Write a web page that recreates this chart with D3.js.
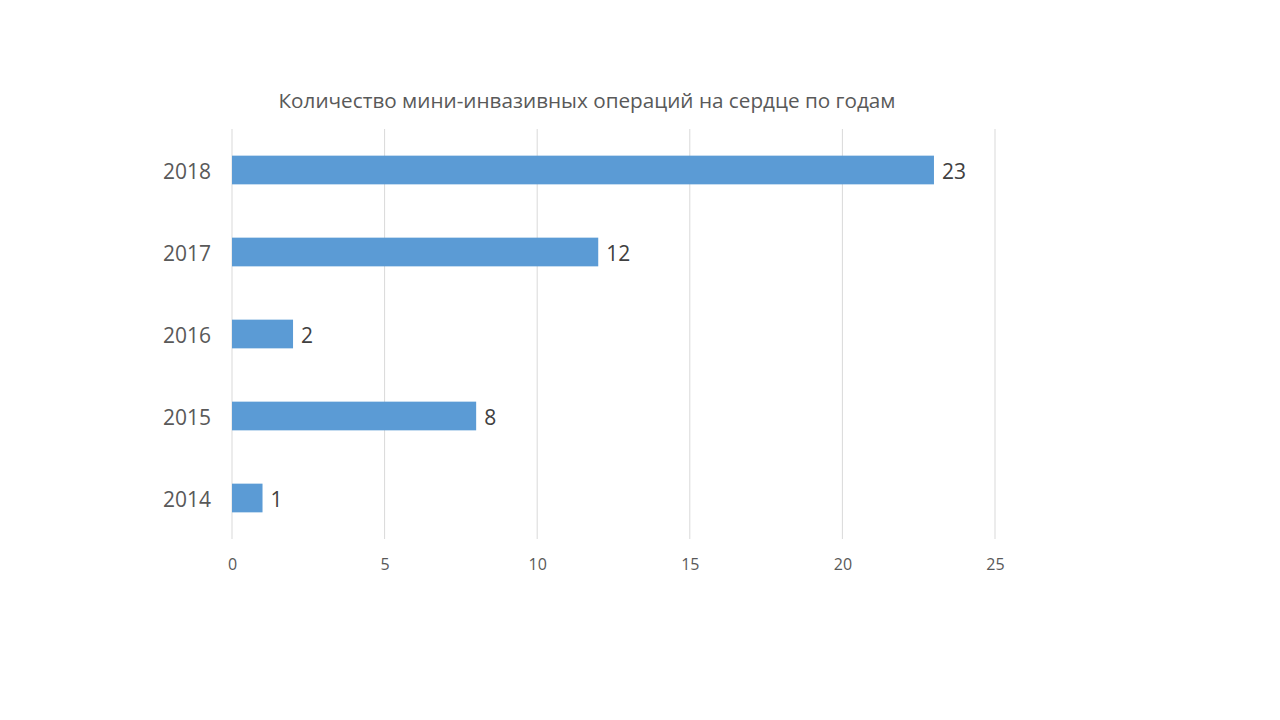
<!DOCTYPE html>
<html><head><meta charset="utf-8">
<script src="https://cdn.jsdelivr.net/npm/d3@7"></script>
<style>html,body{margin:0;padding:0;background:#fff;}</style>
</head><body>
<svg id="chart" width="1280" height="720"></svg>
<script>
const title = "Количество мини-инвазивных операций на сердце по годам";
const categories = ["2018", "2017", "2016", "2015", "2014"];
const values = [23, 12, 2, 8, 1];
const xTicks = [0, 5, 10, 15, 20, 25];

(function(){
const svg = d3.select("#chart");
const font = "'Open Sans', sans-serif";
const pLeft = 232, pRight = 995, pTop = 129, pBottom = 539;

const x = d3.scaleLinear().domain([0, 25]).range([pLeft, pRight]);
const y = d3.scaleBand().domain(categories).range([pTop, pBottom]).paddingInner(0.65).paddingOuter(0.325);

svg.append("rect").attr("width",1280).attr("height",720).attr("fill","#fff");

// gridlines
svg.append("g").selectAll("line").data(xTicks).join("line")
  .attr("x1", d => x(d)).attr("x2", d => x(d))
  .attr("y1", pTop).attr("y2", pBottom)
  .attr("stroke", "#d9d9d9").attr("stroke-width", 1);

// x axis tick labels
const xAxis = d3.axisBottom(x).tickValues(xTicks).tickSize(0).tickPadding(0);
const gx = svg.append("g").attr("transform", `translate(0,${pBottom})`).call(xAxis);
gx.select(".domain").remove();
gx.selectAll("text").attr("y", 26).attr("dy", "0.32em")
  .attr("font-family", font).attr("font-size", 16).attr("fill", "#595959");

// y axis labels
const yAxis = d3.axisLeft(y).tickSize(0).tickPadding(0);
const gy = svg.append("g").attr("transform", `translate(${pLeft},0)`).call(yAxis);
gy.select(".domain").remove();
gy.selectAll("text").attr("x", -21).attr("dy", "0.42em")
  .attr("font-family", font).attr("font-size", 21).attr("fill", "#595959");

// bars
svg.append("g").selectAll("rect").data(values).join("rect")
  .attr("x", x(0))
  .attr("y", (d,i) => y(categories[i]))
  .attr("width", d => x(d) - x(0))
  .attr("height", y.bandwidth())
  .attr("fill", "#5b9bd5");

// value labels
svg.append("g").selectAll("text").data(values).join("text")
  .attr("x", d => x(d) + 8)
  .attr("y", (d,i) => y(categories[i]) + y.bandwidth()/2)
  .attr("dy", "0.42em")
  .attr("font-family", font).attr("font-size", 21).attr("fill", "#404040")
  .text(d => d);

// title
svg.append("text").attr("x", 587).attr("y", 101).attr("dy","0.35em")
  .attr("text-anchor", "middle")
  .attr("font-family", font).attr("font-size", 20).attr("fill", "#595959")
  .attr("textLength", 617).attr("lengthAdjust", "spacingAndGlyphs")
  .text(title);
})();
</script>
</body></html>
